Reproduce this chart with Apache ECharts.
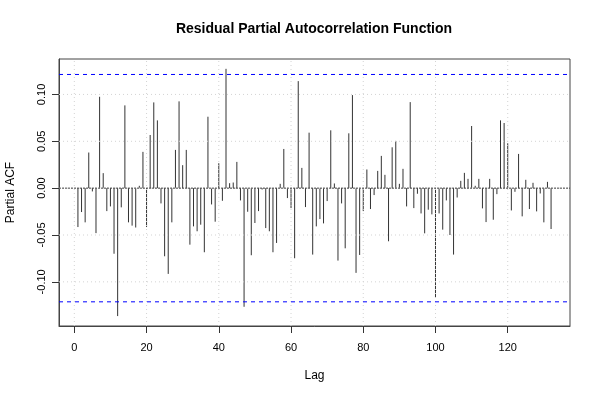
<!DOCTYPE html>
<html>
<head>
<meta charset="utf-8">
<script src="https://cdn.jsdelivr.net/npm/echarts@6/dist/echarts.min.js"></script>
<style>html,body{margin:0;padding:0;background:#fff}#c{width:600px;height:400px}</style>
</head>
<body>
<div id="c"></div>
<script>
// Lags 1..132
const lags = Array.from({length: 132}, (_, i) => i + 1);
// Partial ACF values
const pacf = [
 -0.0415, -0.0255, -0.0365, 0.0380, -0.0035, -0.0480, 0.0975, 0.0160, -0.0245, -0.0195,
 -0.0700, -0.1365, -0.0205, 0.0883, -0.0365, -0.0400, -0.0420, 0.0025, 0.0387, -0.0415,
 0.0567, 0.0915, 0.0723, -0.0163, -0.0727, -0.0915, -0.0365, 0.0408, 0.0926, 0.0245,
 0.0408, -0.0603, -0.0408, -0.0460, -0.0390, -0.0684, 0.0762, -0.0174, -0.0358, 0.0266,
 -0.0135, 0.1273, 0.0053, 0.0060, 0.0280, -0.0131, -0.1266, -0.0252, -0.0716, -0.0372,
 -0.0245, -0.0015, -0.0426, -0.0460, -0.0684, -0.0585, 0.0046, 0.0418, -0.0106, -0.0213,
 -0.0748, 0.1142, 0.0216, -0.0202, 0.0592, -0.0709, -0.0408, -0.0330, -0.0376, -0.0138,
 0.0617, 0.0050, -0.0773, -0.0163, -0.0642, 0.0585, 0.0993, -0.0904, -0.0713, -0.0245,
 0.0199, -0.0223, -0.0074, 0.0184, 0.0344, 0.0142, -0.0567, 0.0436, 0.0504, 0.0046,
 0.0206, -0.0195, 0.0918, -0.0213, -0.0060, -0.0270, -0.0482, -0.0230, -0.0280, -0.1170,
 -0.0270, -0.0443, -0.0131, -0.0500, -0.0709, -0.0100, 0.0078, 0.0163, 0.0099, 0.0663,
 0.0025, 0.0099, -0.0216, -0.0362, 0.0099, -0.0337, -0.0064, 0.0723, 0.0695, 0.0479,
 -0.0238, -0.0039, 0.0365, -0.0301, 0.0089, -0.0223, 0.0057, -0.0248, -0.0057, -0.0365,
 0.0067, -0.0436
];
const confLimits = [0.1213, -0.1213];
const xTicks = [0, 20, 40, 60, 80, 100, 120];
const yTicks = [-0.10, -0.05, 0.00, 0.05, 0.10];
const xMin = -4.24, xMax = 137.24, yMin = -0.1471, yMax = 0.1378;

const data = lags.map((l, i) => [l, pacf[i]]);
const font = 'Liberation Sans, Arial, Helvetica, sans-serif';

function hLineSeries(values, style, z) {
  return {
    type: 'custom', z: z, silent: true, clip: true,
    data: values.map(v => [xMin, v]),
    renderItem: function (params, api) {
      const v = api.value(1);
      const a = api.coord([xMin, v]);
      const b = api.coord([xMax, v]);
      return {type: 'line', shape: {x1: a[0], y1: a[1], x2: b[0], y2: b[1]}, style: style};
    }
  };
}
function vLineSeries(values, style, z) {
  return {
    type: 'custom', z: z, silent: true, clip: true,
    data: values.map(v => [v, yMin]),
    renderItem: function (params, api) {
      const v = api.value(0);
      const a = api.coord([v, yMin]);
      const b = api.coord([v, yMax]);
      return {type: 'line', shape: {x1: a[0], y1: a[1], x2: b[0], y2: b[1]}, style: style};
    }
  };
}
// outward tick marks on the left axis (axis decoration)
const yTickSeries = {
  type: 'custom', z: 6, silent: true, clip: false,
  data: yTicks.map(v => [xMin, v]),
  renderItem: function (params, api) {
    const a = api.coord([xMin, api.value(1)]);
    const y = Math.round(a[1]) + 0.5;
    return {type: 'line', shape: {x1: a[0] - 7, y1: y, x2: a[0], y2: y},
      style: {stroke: '#333', lineWidth: 1}};
  }
};

const chart = echarts.init(document.getElementById('c'), null, {renderer: 'canvas'});
const gridStyle = {stroke: '#d3d3d3', lineWidth: 1, lineDash: [1, 3]};

chart.setOption({
  animation: false,
  backgroundColor: '#fff',
  title: {
    text: 'Residual Partial Autocorrelation Function',
    left: 309, top: 17, textAlign: 'center',
    textStyle: {fontFamily: font, fontSize: 14, fontWeight: 'bold', color: '#000'}
  },
  grid: {left: 59, right: 30, top: 59, bottom: 74, outerBoundsMode: 'none', containLabel: false,
    show: true, borderColor: '#444', borderWidth: 1, backgroundColor: 'transparent'},
  xAxis: {
    type: 'value', min: xMin, max: xMax, position: 'bottom',
    name: 'Lag', nameLocation: 'middle', nameGap: 44,
    nameTextStyle: {fontFamily: font, fontSize: 12, color: '#000'},
    axisLine: {show: true, onZero: false, lineStyle: {color: '#444'}},
    axisTick: {show: true, inside: false, length: 7, customValues: xTicks, lineStyle: {color: '#333'}},
    axisLabel: {customValues: xTicks, margin: 16, fontFamily: font, fontSize: 11, color: '#000'},
    splitLine: {show: false}
  },
  yAxis: {
    type: 'value', min: yMin, max: yMax, position: 'left',
    name: 'Partial ACF', nameLocation: 'middle', nameGap: 42, nameRotate: 90,
    nameTextStyle: {fontFamily: font, fontSize: 12, color: '#000'},
    axisLine: {show: true, onZero: false, lineStyle: {color: '#444'}},
    axisTick: {show: true, inside: false, length: 7, customValues: yTicks, lineStyle: {color: '#333'}},
    axisLabel: {customValues: yTicks, rotate: 90, margin: 12, fontFamily: font, fontSize: 11, color: '#000',
      formatter: v => v.toFixed(2)},
    splitLine: {show: false}
  },
  series: [
    {
      type: 'custom',
      data: data,
      z: 2,
      renderItem: function (params, api) {
        const x = api.value(0), y = api.value(1);
        const p0 = api.coord([x, 0]);
        const p1 = api.coord([x, y]);
        return {type: 'line', shape: {x1: p0[0], y1: p0[1], x2: p1[0], y2: p1[1]},
          style: {stroke: '#333', lineWidth: 1}};
      }
    },
    vLineSeries(xTicks, gridStyle, 3),
    hLineSeries(yTicks, gridStyle, 3),
    hLineSeries([0], {stroke: '#444', lineWidth: 1, lineDash: [2, 1]}, 4),
    hLineSeries(confLimits, {stroke: '#0000ff', lineWidth: 1, lineDash: [4, 4]}, 5),
    yTickSeries
  ]
});
</script>
</body>
</html>
